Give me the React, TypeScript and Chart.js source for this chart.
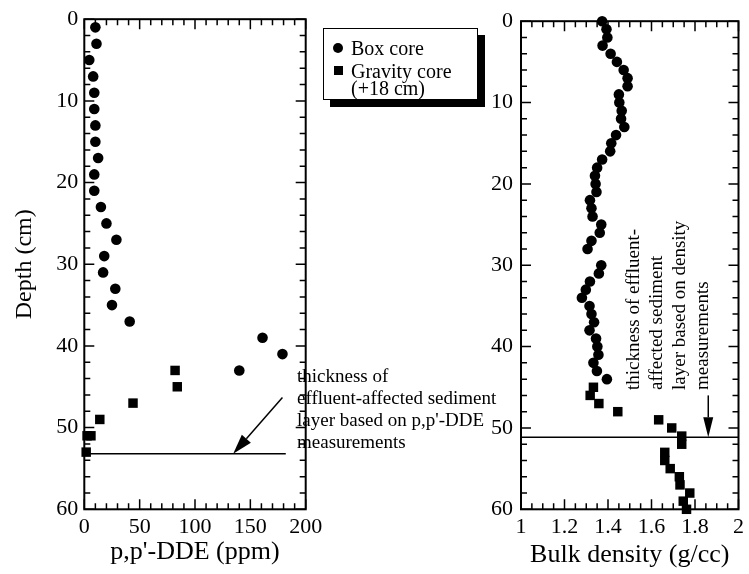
import React, { useEffect, useRef } from "react";
import { Chart, registerables } from "chart.js";

Chart.register(...registerables);

// ---------------- data ----------------
// Left panel: p,p'-DDE (ppm) vs depth (cm)
const boxDepthDDE = [1, 3, 5, 7, 9, 11, 13, 15, 17, 19, 21, 23, 25, 27, 29, 31, 33, 35, 37, 39, 41, 43];
const boxDDE = [10, 11, 4.5, 8, 9, 9, 10, 10, 12.5, 9, 9, 15, 20, 29, 18, 17, 28, 25, 41, 161, 179, 140];
const gravityDepthDDE = [43, 45, 47, 49, 51, 51, 53];
const gravityDDE = [82, 84, 44, 14, 2.5, 6, 1.7];

// Right panel: bulk density (g/cc) vs depth (cm)
const boxDepthDensity = [
  0, 1, 2, 3, 4, 5, 6, 7, 8, 9, 10, 11, 12, 13, 14, 15, 16, 17, 18, 19, 20, 21, 22, 23, 24, 25, 26, 27, 28,
  30, 31, 32, 33, 34, 35, 36, 37, 38, 39, 40, 41, 42, 43, 44,
];
const boxDensity = [
  1.373, 1.393, 1.397, 1.375, 1.412, 1.441, 1.472, 1.49, 1.49, 1.45, 1.452, 1.463, 1.46, 1.475, 1.437, 1.415,
  1.41, 1.373, 1.35, 1.34, 1.343, 1.347, 1.317, 1.324, 1.329, 1.369, 1.362, 1.324, 1.306,
  1.369, 1.358, 1.317, 1.298, 1.28, 1.315, 1.324, 1.336, 1.315, 1.345, 1.351, 1.356, 1.333, 1.349, 1.395,
];
const gravityDepthDensity = [45, 46, 47, 48, 49, 50, 51, 52, 53, 54, 55, 56, 57, 58, 59, 60];
const gravityDensity = [
  1.333, 1.318, 1.358, 1.445, 1.633, 1.693, 1.739, 1.739, 1.661, 1.661, 1.686, 1.728, 1.731, 1.776, 1.746, 1.761,
];

// Tick labels
const depthTicks = [0, 10, 20, 30, 40, 50, 60];
const ddeTicks = [0, 50, 100, 150, 200];
const densityTicks = [1, 1.2, 1.4, 1.6, 1.8, 2];

// Effluent-affected layer thickness (depth, cm)
const ddeLayerDepth = 53.2;
const ddeLayerEnd = 182;
const densityLayerDepth = 51.15;

// ---------------- styling ----------------
const SERIF = '"Liberation Serif", "Times New Roman", Times, serif';
const W = 749;
const H = 574;

const framePlugin = {
  id: "frameTicks",
  afterDatasetsDraw(chart: any, _args: any, opts: any) {
    const { ctx, chartArea: a } = chart;
    const xs = chart.scales.x;
    const ys = chart.scales.y;
    ctx.save();
    ctx.strokeStyle = "#000";
    ctx.fillStyle = "#000";

    const drawTicks = (scale: any, min: number, max: number, minor: number, major: number, horiz: boolean) => {
      const n = Math.round((max - min) / minor);
      ctx.lineWidth = 1.5;
      for (let i = 0; i <= n; i++) {
        const v = min + i * minor;
        const r = (v - min) / major;
        const isMajor = Math.abs(r - Math.round(r)) < 1e-6;
        const len = isMajor ? 10 : 6;
        const p = scale.getPixelForValue(v);
        ctx.beginPath();
        if (horiz) {
          ctx.moveTo(p, a.top);
          ctx.lineTo(p, a.top + len);
          ctx.moveTo(p, a.bottom);
          ctx.lineTo(p, a.bottom - len);
        } else {
          ctx.moveTo(a.left, p);
          ctx.lineTo(a.left + len, p);
          ctx.moveTo(a.right, p);
          ctx.lineTo(a.right - len, p);
        }
        ctx.stroke();
      }
    };
    drawTicks(xs, xs.min, xs.max, opts.xMinor, opts.xMajor, true);
    drawTicks(ys, ys.min, ys.max, opts.yMinor, opts.yMajor, false);

    ctx.lineWidth = 2;
    ctx.strokeRect(a.left, a.top, a.right - a.left, a.bottom - a.top);

    // arrows
    (opts.arrows || []).forEach((ar: any) => {
      const x1 = xs.getPixelForValue(ar.from[0]);
      const y1 = ys.getPixelForValue(ar.from[1]);
      const x2 = xs.getPixelForValue(ar.to[0]);
      const y2 = ys.getPixelForValue(ar.to[1]);
      const ang = Math.atan2(y2 - y1, x2 - x1);
      const hl = ar.headLength;
      const hw = ar.headWidth / 2;
      const bx = x2 - hl * Math.cos(ang);
      const by = y2 - hl * Math.sin(ang);
      ctx.lineWidth = 1.5;
      ctx.beginPath();
      ctx.moveTo(x1, y1);
      ctx.lineTo(bx, by);
      ctx.stroke();
      ctx.beginPath();
      ctx.moveTo(x2, y2);
      ctx.lineTo(bx - hw * Math.sin(ang), by + hw * Math.cos(ang));
      ctx.lineTo(bx + hw * Math.sin(ang), by - hw * Math.cos(ang));
      ctx.closePath();
      ctx.fill();
    });

    // annotation texts
    (opts.texts || []).forEach((t: any) => {
      ctx.save();
      ctx.font = `${t.size}px ${SERIF}`;
      ctx.textAlign = "left";
      ctx.textBaseline = "middle";
      ctx.translate(t.x, t.y);
      if (t.rotate) ctx.rotate(t.rotate);
      t.lines.forEach((line: string, i: number) => {
        ctx.fillText(line, 0, i * t.lineHeight);
      });
      ctx.restore();
    });
    ctx.restore();
  },
};

const tickFont = { family: SERIF, size: 22 };

function pts(xs: number[], ys: number[]) {
  return xs.map((x, i) => ({ x, y: ys[i] }));
}

function fmt(v: number) {
  return String(Math.round(v * 100) / 100);
}

const hiddenGrid = { display: false, drawTicks: false, tickLength: 0 };

function leftConfig(): any {
  return {
    type: "scatter",
    data: {
      datasets: [
        {
          label: "Gravity core (+18 cm)",
          data: pts(gravityDDE, gravityDepthDDE),
          pointStyle: "rect",
          pointRadius: 6.7,
          pointHoverRadius: 6.7,
          backgroundColor: "#000",
          borderWidth: 0,
          clip: false,
        },
        {
          label: "Box core",
          data: pts(boxDDE, boxDepthDDE),
          pointStyle: "circle",
          pointRadius: 5.3,
          pointHoverRadius: 5.3,
          backgroundColor: "#000",
          borderWidth: 0,
          clip: false,
        },
        {
          type: "line",
          label: "layer",
          data: [
            { x: 0, y: ddeLayerDepth },
            { x: ddeLayerEnd, y: ddeLayerDepth },
          ],
          borderColor: "#000",
          borderWidth: 1.5,
          pointRadius: 0,
          showLine: true,
          fill: false,
        },
      ],
    },
    options: {
      responsive: false,
      animation: false,
      events: [],
      layout: { padding: { left: 0, right: W - 305.7, top: 14.7, bottom: 0 } },
      plugins: {
        legend: { display: false },
        tooltip: { enabled: false },
        frameTicks: {
          xMinor: 10,
          xMajor: 50,
          yMinor: 2,
          yMajor: 10,
          arrows: [{ from: [179, 46.3], to: [134.5, 53.2], headLength: 20, headWidth: 12 }],
          texts: [
            {
              x: 297,
              y: 377,
              size: 19,
              lineHeight: 22,
              lines: ["thickness of", "effluent-affected sediment", "layer based on p,p'-DDE", "measurements"],
            },
          ],
        },
      },
      scales: {
        x: {
          type: "linear",
          position: "bottom",
          min: 0,
          max: 200,
          afterBuildTicks: (s: any) => {
            s.ticks = ddeTicks.map((v) => ({ value: v }));
          },
          afterFit: (s: any) => {
            s.height = H - 509.3;
          },
          ticks: { color: "#000", font: tickFont, padding: 5, maxRotation: 0, autoSkip: false, callback: (v: number) => fmt(v) },
          grid: hiddenGrid,
          border: { display: false },
          title: {
            display: true,
            text: "p,p'-DDE (ppm)",
            color: "#000",
            font: { family: SERIF, size: 26 },
            padding: { top: 0, bottom: 6.4 },
          },
        },
        y: {
          type: "linear",
          position: "left",
          min: 0,
          max: 60,
          reverse: true,
          afterBuildTicks: (s: any) => {
            s.ticks = depthTicks.map((v) => ({ value: v }));
          },
          afterFit: (s: any) => {
            s.width = 84.3;
          },
          ticks: { color: "#000", font: tickFont, padding: 6, autoSkip: false, callback: (v: number) => fmt(v) },
          grid: hiddenGrid,
          border: { display: false },
          title: {
            display: true,
            text: "Depth (cm)",
            color: "#000",
            font: { family: SERIF, size: 24 },
            padding: { top: 10.6, bottom: 0 },
          },
        },
      },
    },
    plugins: [framePlugin],
  };
}

function rightConfig(): any {
  return {
    type: "scatter",
    data: {
      datasets: [
        {
          label: "Gravity core (+18 cm)",
          data: pts(gravityDensity, gravityDepthDensity),
          pointStyle: "rect",
          pointRadius: 6.7,
          pointHoverRadius: 6.7,
          backgroundColor: "#000",
          borderWidth: 0,
          clip: false,
        },
        {
          label: "Box core",
          data: pts(boxDensity, boxDepthDensity),
          pointStyle: "circle",
          pointRadius: 5.3,
          pointHoverRadius: 5.3,
          backgroundColor: "#000",
          borderWidth: 0,
          clip: false,
        },
        {
          type: "line",
          label: "layer",
          data: [
            { x: 1, y: densityLayerDepth },
            { x: 2, y: densityLayerDepth },
          ],
          borderColor: "#000",
          borderWidth: 1.5,
          pointRadius: 0,
          showLine: true,
          fill: false,
        },
      ],
    },
    options: {
      responsive: false,
      animation: false,
      events: [],
      layout: { padding: { left: 521 - 60, right: W - 743.3, top: 14.7, bottom: 0 } },
      plugins: {
        legend: { display: false },
        tooltip: { enabled: false },
        frameTicks: {
          xMinor: 0.05,
          xMajor: 0.2,
          yMinor: 2,
          yMajor: 10,
          arrows: [{ from: [1.861, 46], to: [1.861, 51.15], headLength: 20, headWidth: 10 }],
          texts: [
            {
              x: 634,
              y: 390,
              size: 19,
              lineHeight: 23,
              rotate: -Math.PI / 2,
              lines: ["thickness of effluent-", "affected sediment", "layer based on density", "measurements"],
            },
          ],
        },
      },
      scales: {
        x: {
          type: "linear",
          position: "bottom",
          min: 1,
          max: 2,
          afterBuildTicks: (s: any) => {
            s.ticks = densityTicks.map((v) => ({ value: v }));
          },
          afterFit: (s: any) => {
            s.height = H - 509.3;
          },
          ticks: { color: "#000", font: tickFont, padding: 5, maxRotation: 0, autoSkip: false, callback: (v: number) => fmt(v) },
          grid: hiddenGrid,
          border: { display: false },
          title: {
            display: true,
            text: "Bulk density (g/cc)",
            color: "#000",
            font: { family: SERIF, size: 26 },
            padding: { top: 0, bottom: 3.4 },
          },
        },
        y: {
          type: "linear",
          position: "left",
          min: 0,
          max: 60,
          reverse: true,
          afterBuildTicks: (s: any) => {
            s.ticks = depthTicks.map((v) => ({ value: v }));
          },
          afterFit: (s: any) => {
            s.width = 60;
          },
          ticks: { color: "#000", font: tickFont, padding: 8, autoSkip: false, callback: (v: number) => fmt(v) },
          grid: hiddenGrid,
          border: { display: false },
        },
      },
    },
    plugins: [framePlugin],
  };
}

function Legend() {
  const text: React.CSSProperties = {
    position: "absolute",
    left: 27,
    fontFamily: SERIF,
    fontSize: 20,
    lineHeight: "20px",
    whiteSpace: "nowrap",
    color: "#000",
  };
  return (
    <div
      style={{
        position: "absolute",
        left: 323,
        top: 28,
        width: 155,
        height: 72,
        boxSizing: "border-box",
        border: "1.5px solid #000",
        background: "#fff",
        boxShadow: "7px 7px 0 #000",
      }}
    >
      <div
        style={{
          position: "absolute",
          left: 9,
          top: 14,
          width: 10,
          height: 10,
          borderRadius: "50%",
          background: "#000",
        }}
      />
      <div style={{ ...text, top: 9 }}>Box core</div>
      <div
        style={{
          position: "absolute",
          left: 10,
          top: 37,
          width: 9,
          height: 9,
          background: "#000",
        }}
      />
      <div style={{ ...text, top: 32 }}>Gravity core</div>
      <div style={{ ...text, top: 49 }}>(+18 cm)</div>
    </div>
  );
}

export default function App() {
  const leftRef = useRef<HTMLCanvasElement>(null);
  const rightRef = useRef<HTMLCanvasElement>(null);

  useEffect(() => {
    const left = new Chart(leftRef.current as HTMLCanvasElement, leftConfig());
    const right = new Chart(rightRef.current as HTMLCanvasElement, rightConfig());
    return () => {
      left.destroy();
      right.destroy();
    };
  }, []);

  return (
    <div style={{ position: "fixed", left: 0, top: 0, width: W, height: H, background: "#fff", overflow: "hidden" }}>
      <canvas ref={leftRef} width={W} height={H} style={{ position: "absolute", left: 0, top: 0, width: W, height: H }} />
      <canvas ref={rightRef} width={W} height={H} style={{ position: "absolute", left: 0, top: 0, width: W, height: H }} />
      <Legend />
    </div>
  );
}
